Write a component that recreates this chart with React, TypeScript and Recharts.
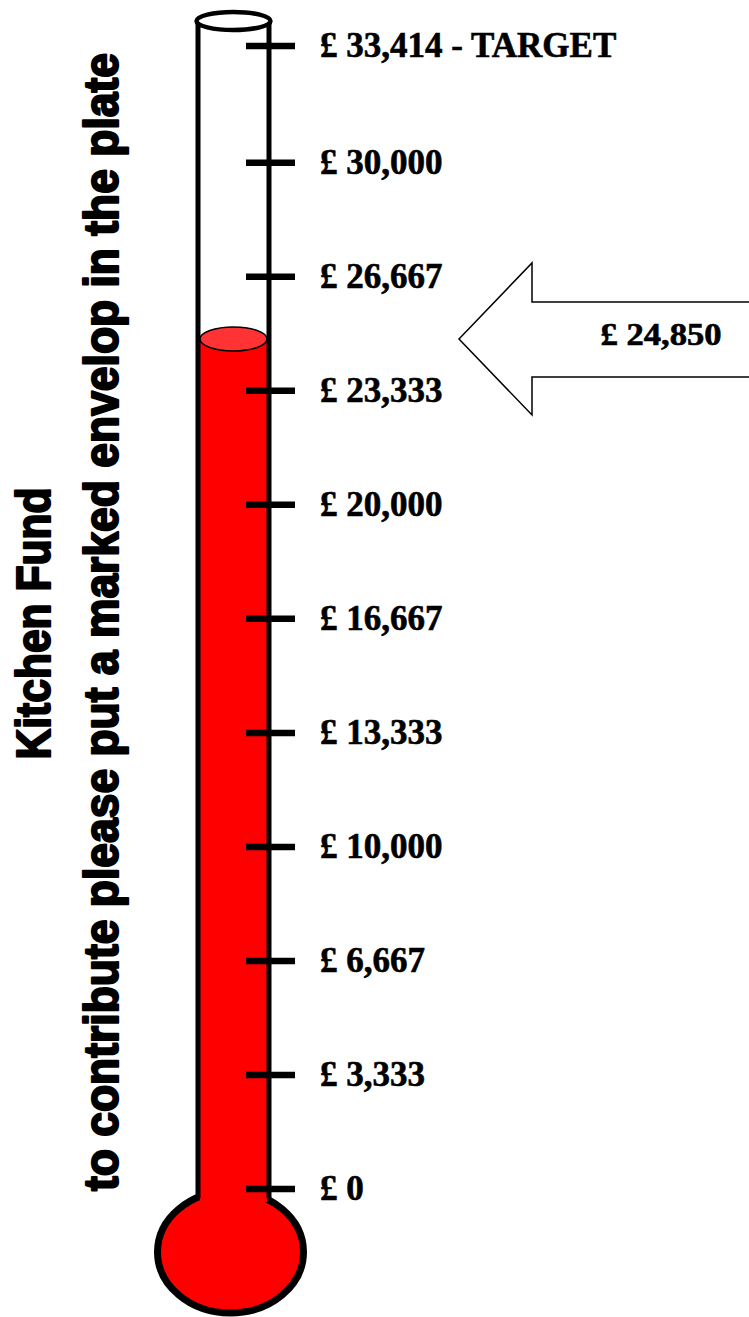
import React from "react";
import { BarChart, Bar, XAxis, YAxis, ReferenceLine } from "recharts";

const TITLE = "Kitchen Fund";
const SUBTITLE = "to contribute please put a marked envelop in the plate";

const categories = ["Kitchen Fund"];
const raisedValues = [24850];
const raisedLabels = ["£ 24,850"];
const TARGET = 33414;

const tickValues = [0, 3333, 6667, 10000, 13333, 16667, 20000, 23333, 26667, 30000, 33414];
const tickLabels = [
  "£ 0",
  "£ 3,333",
  "£ 6,667",
  "£ 10,000",
  "£ 13,333",
  "£ 16,667",
  "£ 20,000",
  "£ 23,333",
  "£ 26,667",
  "£ 30,000",
  "£ 33,414 - TARGET",
];

const data = categories.map((name, i) => ({ name, raised: raisedValues[i] }));

const W = 749;
const H = 1317;
const TUBE_TOP = 20;
const SERIF = "'Liberation Serif', 'Times New Roman', serif";
const SANS = "'Liberation Sans', Arial, sans-serif";

// red column with a lighter cap on top
const Mercury = (p: any) => {
  const { x, y, width, height } = p;
  const rx = width / 2;
  return (
    <g>
      <rect x={x} y={y} width={width} height={height + 8} fill="#FF0000" />
      <ellipse cx={x + rx} cy={y} rx={rx} ry={12} fill="#FF3333" stroke="#000" strokeWidth={1.5} />
    </g>
  );
};

// glass tube + bulb, hung on the zero line
const Glass = (p: any) => {
  const { x1, x2, y1 } = p;
  const left = x1 - 2;
  const right = x2 + 2;
  const mid = (left + right) / 2;
  return (
    <g>
      <ellipse cx={mid - 3} cy={y1 + 63} rx={73} ry={61} fill="#FF0000" stroke="#000" strokeWidth={7} />
      <rect x={x1} y={y1 - 4} width={x2 - x1} height={17} fill="#FF0000" />
      <line x1={left} y1={TUBE_TOP} x2={left} y2={y1 + 9} stroke="#000" strokeWidth={5} />
      <line x1={right} y1={TUBE_TOP} x2={right} y2={y1 + 9} stroke="#000" strokeWidth={5} />
      <ellipse cx={mid} cy={TUBE_TOP + 1} rx={(right - left) / 2 + 1.5} ry={9} fill="#fff" stroke="#000" strokeWidth={4.5} />
    </g>
  );
};

const tickShape = (label: string) => (p: any) => (
  <g>
    <line x1={p.x2 - 21} y1={p.y1} x2={p.x2 + 28} y2={p.y1} stroke="#000" strokeWidth={6.5} />
    <text
      x={p.x2 + 53}
      y={p.y1 + 11}
      fontFamily={SERIF}
      fontWeight="bold"
      fontSize={35}
      fill="#000"
      stroke="#000"
      strokeWidth={0.6}
    >
      {label}
    </text>
  </g>
);

const arrowShape = (label: string) => (p: any) => {
  const tx = p.x2 + 192;
  const ty = p.y1;
  const hx = tx + 73;
  const pts = [
    [tx, ty],
    [hx, ty - 76],
    [hx, ty - 37],
    [W + 20, ty - 37],
    [W + 20, ty + 38],
    [hx, ty + 38],
    [hx, ty + 76],
  ]
    .map((q) => q.join(","))
    .join(" ");
  return (
    <g>
      <polygon points={pts} fill="#fff" stroke="#000" strokeWidth={1.5} />
      <text
        x={tx + 202}
        y={ty + 6}
        textAnchor="middle"
        fontFamily={SERIF}
        fontWeight="bold"
        fontSize={31}
        textLength={121}
        lengthAdjust="spacingAndGlyphs"
        fill="#000"
        stroke="#000"
        strokeWidth={0.6}
      >
        {label}
      </text>
    </g>
  );
};

export default function App() {
  return (
    <div style={{ position: "absolute", left: 0, top: 0, width: W, height: H, background: "#fff" }}>
      <BarChart
        width={W}
        height={H}
        data={data}
        margin={{ top: 46, bottom: 128, left: 200, right: 482 }}
        barCategoryGap={0}
      >
        <XAxis dataKey="name" hide />
        <YAxis type="number" domain={[0, TARGET]} ticks={tickValues} allowDataOverflow hide />
        <Bar dataKey="raised" isAnimationActive={false} shape={Mercury} />
        <ReferenceLine y={0} shape={Glass} />
        {tickValues.map((v, i) => (
          <ReferenceLine key={v} y={v} shape={tickShape(tickLabels[i])} />
        ))}
        <ReferenceLine y={raisedValues[0]} shape={arrowShape(raisedLabels[0])} />
        <text
          transform="translate(50,623.5) rotate(-90)"
          textAnchor="middle"
          fontFamily={SANS}
          fontWeight="bold"
          fontSize={49}
          textLength={272}
          lengthAdjust="spacingAndGlyphs"
          fill="#000"
          stroke="#000"
          strokeWidth={2.2}
          strokeLinejoin="round"
        >
          {TITLE}
        </text>
        <text
          transform="translate(118,622) rotate(-90)"
          textAnchor="middle"
          fontFamily={SANS}
          fontWeight="bold"
          fontSize={49}
          textLength={1138}
          lengthAdjust="spacingAndGlyphs"
          fill="#000"
          stroke="#000"
          strokeWidth={2.2}
          strokeLinejoin="round"
        >
          {SUBTITLE}
        </text>
      </BarChart>
    </div>
  );
}
